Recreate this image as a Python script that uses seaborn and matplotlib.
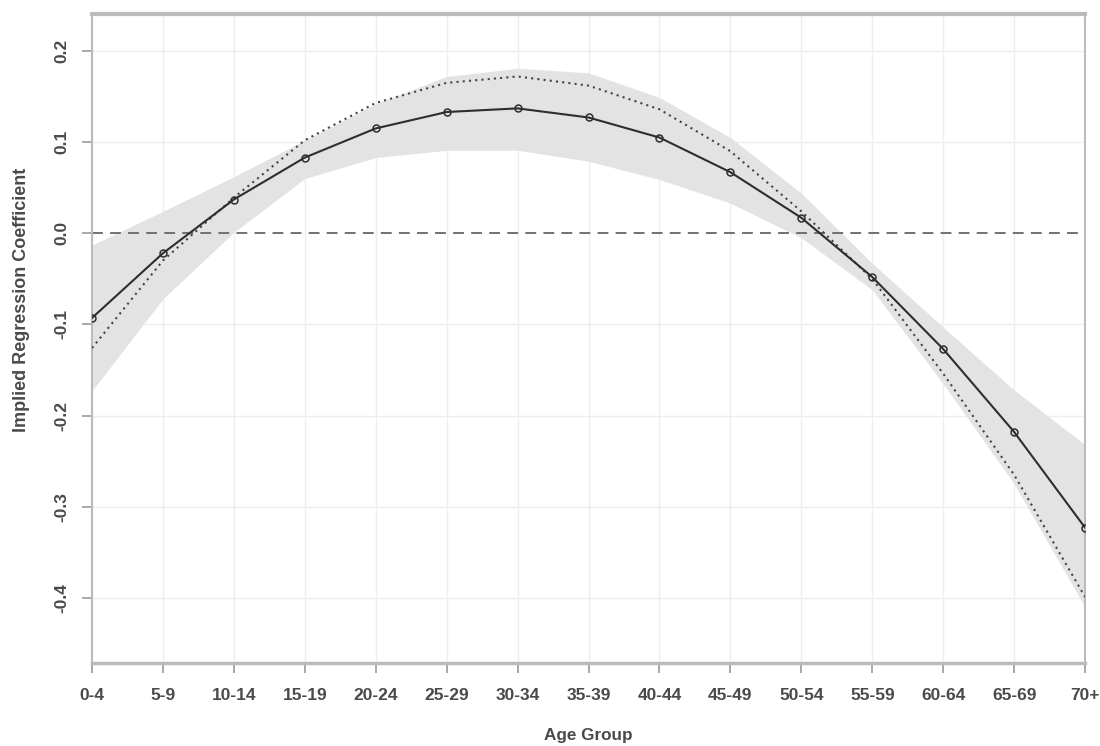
import numpy as np
import pandas as pd
import matplotlib
matplotlib.use("Agg")
import matplotlib.pyplot as plt
import seaborn as sns

# age groups on the x axis
age_groups = ["0-4", "5-9", "10-14", "15-19", "20-24", "25-29", "30-34", "35-39",
              "40-44", "45-49", "50-54", "55-59", "60-64", "65-69", "70+"]

# implied coefficients (solid line with circles)
coef = [-0.093, -0.022, 0.037, 0.083, 0.115, 0.133, 0.137, 0.127,
        0.105, 0.067, 0.017, -0.048, -0.127, -0.218, -0.323]

# smooth reference curve (dotted)
coef_ref = [-0.126, -0.030, 0.039, 0.102, 0.143, 0.165, 0.172, 0.162,
            0.136, 0.090, 0.024, -0.050, -0.154, -0.265, -0.399]

# confidence band
band_upper = [-0.013, 0.024, 0.062, 0.102, 0.142, 0.172, 0.181, 0.176,
              0.149, 0.105, 0.044, -0.033, -0.103, -0.172, -0.232]
band_lower = [-0.173, -0.072, 0.001, 0.060, 0.083, 0.091, 0.091, 0.079,
              0.059, 0.033, -0.005, -0.062, -0.165, -0.275, -0.410]

y_ticks = [-0.4, -0.3, -0.2, -0.1, 0.0, 0.1, 0.2]

df = pd.DataFrame({
    "pos": np.arange(len(age_groups)),
    "grupo": age_groups,
    "coef": coef,
    "ref": coef_ref,
    "lo": band_lower,
    "hi": band_upper,
})

sns.set_theme(style="white")
plt.rcParams["font.family"] = ["Liberation Sans", "DejaVu Sans"]

fig = plt.figure(figsize=(11, 7.46), dpi=100)
ax = fig.add_axes([0.0836, 0.1113, 0.9028, 0.870])

# grid suave
for p in df["pos"]:
    ax.axvline(p, color="#eeeeee", lw=1.0, zorder=0)
for yv in y_ticks:
    if yv != 0.0:
        ax.axhline(yv, color="#eeeeee", lw=1.0, zorder=0)

ax.fill_between(df["pos"], df["lo"], df["hi"], color="#e3e3e3", lw=0, zorder=1)
ax.axhline(0, color="#666666", lw=1.3, ls=(0, (6, 4)), zorder=2)

sns.lineplot(data=df, x="pos", y="ref", ax=ax, color="#444444", lw=1.5,
             linestyle=(0, (1, 2)), zorder=3)
sns.lineplot(data=df, x="pos", y="coef", ax=ax, color="#2e2e2e", lw=1.5,
             marker="o", markersize=5, markerfacecolor="none",
             markeredgecolor="#2e2e2e", markeredgewidth=1.1, zorder=4)

ax.set_xlim(0, 14)
ax.set_ylim(-0.4715, 0.2406)
ax.set_xticks(df["pos"])
ax.set_xticklabels(age_groups, fontsize=12.5, fontweight="bold", color="#4a4a4a")
ax.set_yticks(y_ticks)
ax.set_yticklabels([f"{v:.1f}" for v in y_ticks], rotation=90, va="center",
                   fontsize=12.5, fontweight="bold", color="#4a4a4a")

ax.tick_params(axis="both", which="both", direction="out", length=7,
               width=1.2, color="#999999", bottom=True, left=True)
ax.tick_params(axis="x", pad=11)
ax.tick_params(axis="y", pad=9)

ax.set_xlabel("Age Group", fontsize=12.3, fontweight="bold", color="#4a4a4a", labelpad=18)
ax.set_ylabel("Implied Regression Coefficient", fontsize=13, fontweight="bold",
              color="#4a4a4a")
ax.yaxis.set_label_coords(-0.062, 0.56)

for side, w in [("top", 3.0), ("left", 1.5), ("bottom", 2.5), ("right", 1.5)]:
    ax.spines[side].set_visible(True)
    ax.spines[side].set_color("#bbbbbb")
    ax.spines[side].set_linewidth(w)

fig.savefig("out.png", dpi=100)
